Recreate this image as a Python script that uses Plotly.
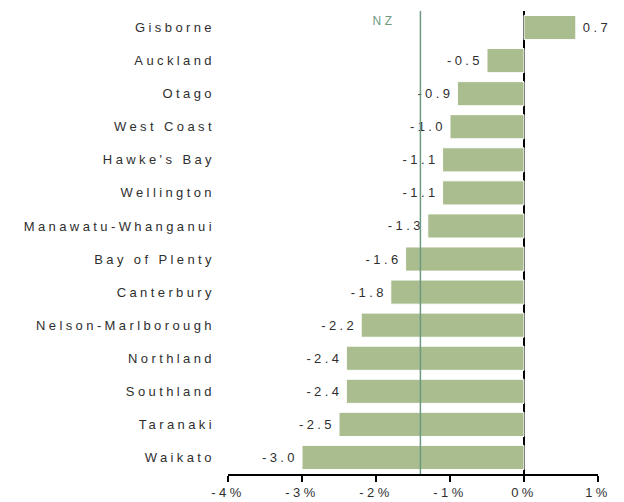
import plotly.graph_objects as go

regions = ["Gisborne", "Auckland", "Otago", "West Coast", "Hawke's Bay", "Wellington",
           "Manawatu-Whanganui", "Bay of Plenty", "Canterbury", "Nelson-Marlborough",
           "Northland", "Southland", "Taranaki", "Waikato"]
values = [0.7, -0.5, -0.9, -1.0, -1.1, -1.1, -1.3, -1.6, -1.8, -2.2, -2.4, -2.4, -2.5, -3.0]
nz_value = -1.4
tick_vals = [-4, -3, -2, -1, 0, 1]
tick_text = ["-4%", "-3%", "-2%", "-1%", "0%", "1%"]

font_family = "Liberation Sans, Arial, sans-serif"
txt_color = "#2f2f2f"

fig = go.Figure(go.Bar(
    x=values, y=regions, orientation="h",
    marker=dict(color="#a9bd8f", line=dict(color="white", width=1)),
    text=[f"{v:.1f}" for v in values], textposition="outside",
    textfont=dict(size=13, color=txt_color, family=font_family),
    cliponaxis=False,
))

fig.add_shape(type="line", x0=nz_value, x1=nz_value, y0=0, y1=1.0, yref="paper", xref="x",
              line=dict(color="#6f9a82", width=1.5))
fig.add_annotation(x=nz_value, y=1.0, xref="x", yref="paper", text="NZ", showarrow=False,
                   xanchor="right", yanchor="top", xshift=-26, yshift=-1,
                   font=dict(size=12, color="#6f9a82", family=font_family))

fig.update_layout(
    width=624, height=502,
    margin=dict(l=228, r=26, t=11, b=28),
    paper_bgcolor="white", plot_bgcolor="white",
    bargap=0.27, showlegend=False,
    font=dict(family=font_family, size=13, color=txt_color),
)
fig.update_xaxes(range=[-4, 1], tickvals=tick_vals, ticktext=tick_text, automargin=False,
                 showgrid=False, zeroline=True, zerolinecolor="black", zerolinewidth=1.5,
                 showline=True, linecolor="black", linewidth=1.5,
                 ticks="outside", ticklen=6, tickwidth=1.5, tickcolor="black",
                 tickfont=dict(size=13, color=txt_color))
fig.update_yaxes(categoryorder="array", categoryarray=regions, autorange="reversed",
                 automargin=False,
                 showgrid=False, showline=False, ticks="", ticklabelstandoff=12,
                 tickfont=dict(size=13, color=txt_color))

post = """
document.body.style.margin='0';
var SP = 3.4;
document.querySelectorAll('.main-svg text').forEach(function(t){
  var isBar = t.classList.contains('bartext');
  var w0 = isBar ? t.getBBox().width : 0;
  t.style.letterSpacing = SP + 'px';
  if (isBar) {
    var w1 = t.getBBox().width;
    var d = (w1 - w0) / 2;
    var neg = (t.textContent || '').trim().charAt(0) === '-';
    t.setAttribute('dx', neg ? (-d - 1) : (d + 4));
  }
});
"""
fig.write_html("out.html", post_script=post, config={"displayModeBar": False})
